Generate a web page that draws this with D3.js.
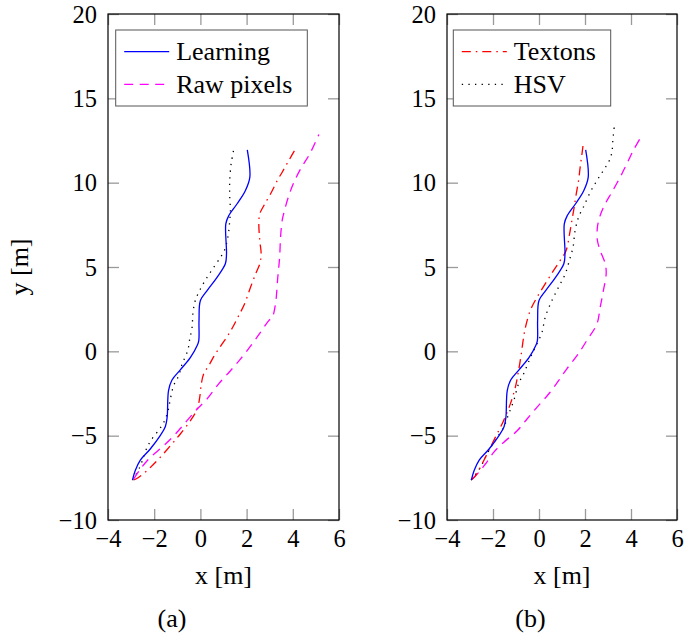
<!DOCTYPE html>
<html>
<head>
<meta charset="utf-8">
<script src="https://cdn.jsdelivr.net/npm/d3@7/dist/d3.min.js"></script>
<style>
  html, body { margin: 0; padding: 0; background: #fff; }
  svg text { font-family: "Liberation Serif", "Times New Roman", Times, "DejaVu Serif", "Noto Serif", serif; fill: #000; }
</style>
</head>
<body>
<svg id="chart" width="684" height="637"></svg>
<script>
// ---- data ----
const xTicks = [-4, -2, 0, 2, 4, 6];
const yTicks = [-10, -5, 0, 5, 10, 15, 20];

// shared trajectory (same in both panels)
const learning = [
  [-2.94,-7.63],[-2.82,-7.07],[-2.60,-6.45],[-2.17,-5.79],[-1.74,-5.00],[-1.52,-4.47],
  [-1.44,-3.92],[-1.38,-2.33],[-1.23,-1.70],[-0.87,-1.10],[-0.43,-0.36],[-0.14,0.34],
  [-0.07,0.64],[-0.06,1.82],[0.00,3.01],[0.29,3.60],[0.72,4.39],[1.08,5.19],[1.13,5.78],
  [1.10,7.56],[1.23,8.05],[1.59,8.75],[1.95,9.54],[2.14,10.33],[2.03,11.95]
];

// panel (a)
const rawPixelsA = [
  [-2.89,-7.57],[-2.60,-6.98],[-2.17,-6.29],[-1.59,-5.60],[-1.08,-4.90],[-0.58,-4.11],
  [-0.14,-3.42],[0.29,-2.82],[0.79,-1.93],[1.30,-1.15],[1.74,-0.45],[2.24,0.44],
  [2.60,1.13],[2.96,1.82],[3.11,2.02],[3.25,2.81],[3.35,4.39],[3.43,5.58],[3.47,6.77],
  [3.54,7.76],[3.64,8.35],[3.83,9.24],[4.05,10.03],[4.34,10.82],[4.74,11.72],[5.13,12.86]
];
const textonsA = [
  [-2.89,-7.63],[-2.68,-7.48],[-2.24,-6.98],[-1.81,-6.39],[-1.30,-5.60],[-0.87,-4.90],
  [-0.43,-4.11],[-0.14,-3.42],[-0.03,-2.73],[0.04,-1.93],[0.14,-1.34],[0.36,-0.85],
  [0.65,-0.15],[0.94,0.44],[1.23,1.03],[1.44,1.53],[1.66,2.12],[1.91,2.81],[2.17,3.80],
  [2.39,4.59],[2.57,5.19],[2.63,5.78],[2.57,6.57],[2.53,7.56],[2.57,8.15],[2.75,8.65],
  [3.04,9.34],[3.33,10.13],[3.54,10.62],[3.83,11.32],[4.12,12.01]
];
const hsvA = [
  [-2.94,-7.63],[-2.82,-7.38],[-2.63,-6.88],[-2.46,-6.29],[-2.31,-5.70],[-2.10,-5.20],
  [-1.77,-4.61],[-1.55,-4.11],[-1.40,-3.52],[-1.30,-2.82],[-1.16,-2.04],[-0.94,-1.45],
  [-0.79,-0.75],[-0.55,0.04],[-0.46,0.74],[-0.36,1.42],[-0.32,2.31],[-0.22,3.01],
  [0.00,3.70],[0.29,4.39],[0.58,4.99],[0.87,5.58],[1.04,5.98],[1.16,6.57],[1.23,7.16],
  [1.27,7.76],[1.30,8.35],[1.27,9.14],[1.27,10.13],[1.33,11.12],[1.38,11.51],[1.44,11.95]
];

// panel (b)
const rawPixelsB = [
  [-2.91,-7.57],[-2.62,-7.18],[-2.33,-6.68],[-1.97,-5.99],[-1.54,-5.40],[-0.95,-4.71],
  [-0.52,-4.01],[-0.09,-3.32],[0.42,-2.53],[0.85,-1.74],[1.21,-1.04],[1.65,-0.26],
  [2.08,0.64],[2.52,1.63],[2.66,2.61],[2.80,3.60],[2.92,4.59],[2.88,5.19],[2.66,5.98],
  [2.54,6.57],[2.54,7.36],[2.66,8.05],[2.88,8.75],[3.17,9.44],[3.53,10.33],[3.82,11.12],
  [4.10,11.91],[4.39,12.61]
];
const textonsB = [
  [-2.95,-7.63],[-2.76,-7.38],[-2.55,-6.88],[-2.26,-6.09],[-1.90,-5.10],[-1.54,-4.11],
  [-1.25,-3.13],[-1.03,-2.14],[-0.89,-1.15],[-0.77,-0.15],[-0.67,0.83],[-0.59,1.42],
  [-0.38,2.42],[-0.09,3.20],[0.27,4.00],[0.63,4.79],[0.92,5.38],[1.18,5.98],[1.33,6.97],
  [1.43,7.76],[1.53,8.55],[1.62,9.34],[1.72,10.13],[1.79,10.92],[1.87,11.72],[1.93,12.37]
];
const hsvB = [
  [-2.95,-7.63],[-2.69,-7.18],[-2.47,-6.68],[-2.26,-6.09],[-1.97,-5.40],[-1.54,-4.51],
  [-1.32,-3.72],[-1.10,-2.93],[-0.89,-1.93],[-0.67,-1.34],[-0.49,-0.75],[-0.30,-0.15],
  [-0.09,0.44],[0.13,1.13],[0.27,2.02],[0.56,3.01],[0.85,3.80],[1.14,4.59],[1.36,5.58],
  [1.48,6.17],[1.57,7.16],[1.72,7.95],[1.93,8.55],[2.23,9.44],[2.52,10.13],[2.80,10.72],
  [3.06,11.32],[3.17,11.81],[3.21,12.50],[3.27,13.29]
];

// ---- styles ----
const styles = {
  learning: { color: "#0000ff", dash: null },
  raw:      { color: "#ff00ff", dash: "9,6.5" },
  textons:  { color: "#ff0000", dash: "9,5,1.5,5" },
  hsv:      { color: "#000000", dash: "1.3,5.3" }
};

const SERIF = '"Liberation Serif", "Times New Roman", Times, "DejaVu Serif", "Noto Serif", serif';
const svg = d3.select("#chart").attr("font-family", SERIF);
const FS = 26;      // legend, labels, captions
const TFS = 24.5;   // tick labels

function serifText(sel, size) {
  return sel.attr("font-family", SERIF).style("font-family", SERIF)
    .attr("font-size", size || FS).attr("fill", "#000");
}

function panel(opts) {
  const x = d3.scaleLinear().domain([-4, 6]).range([opts.left, opts.right]);
  const y = d3.scaleLinear().domain([-10, 20]).range([520, 14]);
  const g = svg.append("g");

  const tickStyle = sel => {
    sel.attr("font-family", SERIF);
    sel.select(".domain").remove();
    sel.selectAll(".tick line").attr("stroke", "#9a9a9a").attr("stroke-width", 1.3);
  };

  // bottom axis with labels
  const gb = g.append("g").attr("transform", `translate(0,${y(-10)})`)
    .call(d3.axisBottom(x).tickValues(xTicks).tickSize(-11).tickPadding(0).tickFormat(d3.format("d")));
  tickStyle(gb);
  serifText(gb.selectAll(".tick text").attr("y", 27).attr("dy", null), TFS);

  // top axis (ticks only)
  const gt = g.append("g").attr("transform", `translate(0,${y(20)})`)
    .call(d3.axisTop(x).tickValues(xTicks).tickSize(-11).tickFormat(""));
  tickStyle(gt);

  // left axis with labels
  const gl = g.append("g").attr("transform", `translate(${x(-4)},0)`)
    .call(d3.axisLeft(y).tickValues(yTicks).tickSize(-11).tickPadding(0).tickFormat(d3.format("d")));
  tickStyle(gl);
  serifText(gl.selectAll(".tick text").attr("x", -11).attr("dy", "0.33em"), TFS);

  // right axis (ticks only)
  const gr = g.append("g").attr("transform", `translate(${x(6)},0)`)
    .call(d3.axisRight(y).tickValues(yTicks).tickSize(-11).tickFormat(""));
  tickStyle(gr);

  // series
  const line = d3.line().x(d => x(d[0])).y(d => y(d[1])).curve(d3.curveCatmullRom.alpha(0.5));
  opts.series.forEach(s => {
    const st = styles[s.key];
    g.append("path").datum(s.data)
      .attr("d", line)
      .attr("fill", "none")
      .attr("stroke", st.color)
      .attr("stroke-width", 1.3)
      .attr("stroke-dasharray", st.dash);
  });

  // frame
  g.append("rect")
    .attr("x", x(-4)).attr("y", y(20))
    .attr("width", x(6) - x(-4)).attr("height", y(-10) - y(20))
    .attr("fill", "none").attr("stroke", "#000").attr("stroke-width", 1.2);

  // legend
  const lg = opts.legend;
  const L = g.append("g");
  L.append("rect")
    .attr("x", lg.x).attr("y", 30).attr("width", lg.w).attr("height", 76)
    .attr("fill", "#fff").attr("stroke", "#555").attr("stroke-width", 1);
  lg.entries.forEach((e, i) => {
    const st = styles[e.key];
    const cy = 51.7 + i * 32.6;
    L.append("line")
      .attr("x1", lg.x + 8.5).attr("x2", lg.x + 53.5)
      .attr("y1", cy).attr("y2", cy)
      .attr("stroke", st.color).attr("stroke-width", 1.3)
      .attr("stroke-dasharray", st.dash);
    serifText(L.append("text")
      .attr("x", lg.x + 60.5).attr("y", cy + 8.5)).text(e.label);
  });

  // x label
  serifText(g.append("text")
    .attr("x", (x(-4) + x(6)) / 2).attr("y", 584)
    .attr("text-anchor", "middle")).text("x [m]");

  // caption
  serifText(g.append("text")
    .attr("x", opts.capX).attr("y", 627)
    .attr("text-anchor", "middle")).text(opts.caption);
}

panel({
  left: 108, right: 339, capX: 172, caption: "(a)",
  series: [
    { key: "hsv", data: hsvA },
    { key: "textons", data: textonsA },
    { key: "raw", data: rawPixelsA },
    { key: "learning", data: learning }
  ],
  legend: { x: 115.7, w: 191.6, entries: [
    { key: "learning", label: "Learning" },
    { key: "raw", label: "Raw pixels" }
  ]}
});

panel({
  left: 447, right: 677, capX: 530.5, caption: "(b)",
  series: [
    { key: "hsv", data: hsvB },
    { key: "raw", data: rawPixelsB },
    { key: "textons", data: textonsB },
    { key: "learning", data: learning }
  ],
  legend: { x: 453.3, w: 157.4, entries: [
    { key: "textons", label: "Textons" },
    { key: "hsv", label: "HSV" }
  ]}
});

// y label (left panel only)
serifText(svg.append("text")
  .attr("transform", "translate(28,267) rotate(-90)")
  .attr("text-anchor", "middle")).text("y [m]");
</script>
</body>
</html>
